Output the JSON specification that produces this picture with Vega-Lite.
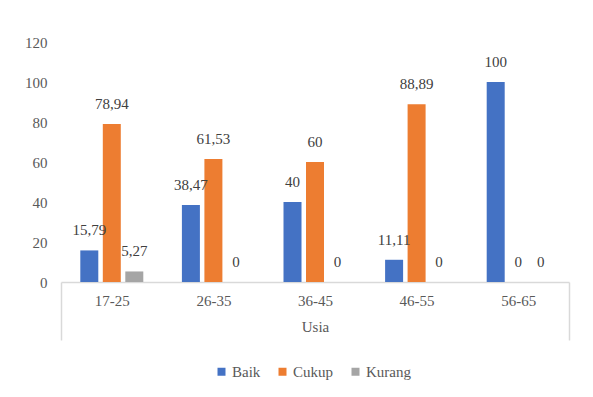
{
  "$schema": "https://vega.github.io/schema/vega-lite/v6.json",
  "width": 508,
  "height": 240,
  "autosize": {"type": "none"},
  "padding": {"left": 61, "top": 42, "right": 24, "bottom": 115},
  "background": "white",
  "config": {
    "locale": {"number": {"decimal": ",", "thousands": ".", "grouping": [3], "currency": ["", ""]}},
    "view": {"stroke": null},
    "font": "Liberation Serif, Times New Roman, serif",
    "text": {"font": "Liberation Serif, Times New Roman, serif"}
  },
  "data": {
    "values": [
      {"usia": "17-25", "kategori": "Baik", "nilai": 15.79},
      {"usia": "17-25", "kategori": "Cukup", "nilai": 78.94},
      {"usia": "17-25", "kategori": "Kurang", "nilai": 5.27},
      {"usia": "26-35", "kategori": "Baik", "nilai": 38.47},
      {"usia": "26-35", "kategori": "Cukup", "nilai": 61.53},
      {"usia": "26-35", "kategori": "Kurang", "nilai": 0},
      {"usia": "36-45", "kategori": "Baik", "nilai": 40},
      {"usia": "36-45", "kategori": "Cukup", "nilai": 60},
      {"usia": "36-45", "kategori": "Kurang", "nilai": 0},
      {"usia": "46-55", "kategori": "Baik", "nilai": 11.11},
      {"usia": "46-55", "kategori": "Cukup", "nilai": 88.89},
      {"usia": "46-55", "kategori": "Kurang", "nilai": 0},
      {"usia": "56-65", "kategori": "Baik", "nilai": 100},
      {"usia": "56-65", "kategori": "Cukup", "nilai": 0},
      {"usia": "56-65", "kategori": "Kurang", "nilai": 0}
    ]
  },
  "encoding": {
    "x": {
      "field": "usia",
      "type": "nominal",
      "sort": null,
      "scale": {"paddingInner": 0, "paddingOuter": 0},
      "axis": {
        "title": "Usia",
        "titleFont": "Liberation Serif, Times New Roman, serif",
        "titleFontSize": 15,
        "titleFontWeight": "normal",
        "titleColor": "#595959",
        "titleBaseline": "top",
        "titleY": 37,
        "labelAngle": 0,
        "labelFont": "Liberation Serif, Times New Roman, serif",
        "labelFontSize": 15,
        "labelColor": "#595959",
        "labelPadding": -47,
        "domainColor": "#D9D9D9",
        "domainWidth": 1.5,
        "tickBand": "extent",
        "tickSize": 58,
        "tickColor": "#D9D9D9",
        "tickWidth": 1.5,
        "tickOpacity": {"condition": {"test": "datum.value === '56-65' || datum.extra", "value": 1}, "value": 0}
      }
    },
    "xOffset": {
      "field": "kategori",
      "type": "nominal",
      "scale": {"paddingInner": 0.2, "paddingOuter": 0.858}
    },
    "y": {
      "field": "nilai",
      "type": "quantitative",
      "scale": {"domain": [0, 120], "nice": false},
      "axis": {
        "title": null,
        "values": [0, 20, 40, 60, 80, 100, 120],
        "labelFont": "Liberation Serif, Times New Roman, serif",
        "labelFontSize": 15,
        "labelColor": "#595959",
        "labelPadding": 14,
        "domain": false,
        "ticks": false,
        "grid": false
      }
    }
  },
  "layer": [
    {
      "mark": {"type": "bar"},
      "encoding": {
        "color": {
          "field": "kategori",
          "type": "nominal",
          "scale": {"domain": ["Baik", "Cukup", "Kurang"], "range": ["#4472C4", "#ED7D31", "#A5A5A5"]},
          "legend": {
            "title": null,
            "orient": "none",
            "direction": "horizontal",
            "legendX": 153,
            "legendY": 322,
            "padding": 0,
            "symbolType": "square",
            "symbolSize": 64,
            "symbolStrokeWidth": 0,
            "labelOffset": 3,
            "columnPadding": 14,
            "labelFont": "Liberation Serif, Times New Roman, serif",
            "labelFontSize": 15,
            "labelColor": "#595959"
          }
        }
      }
    },
    {
      "mark": {"type": "text", "baseline": "alphabetic", "dy": -15, "fontSize": 15, "color": "#404040", "font": "Liberation Serif, Times New Roman, serif"},
      "encoding": {
        "text": {"field": "nilai", "type": "quantitative", "format": ".4~g"}
      }
    }
  ]
}
